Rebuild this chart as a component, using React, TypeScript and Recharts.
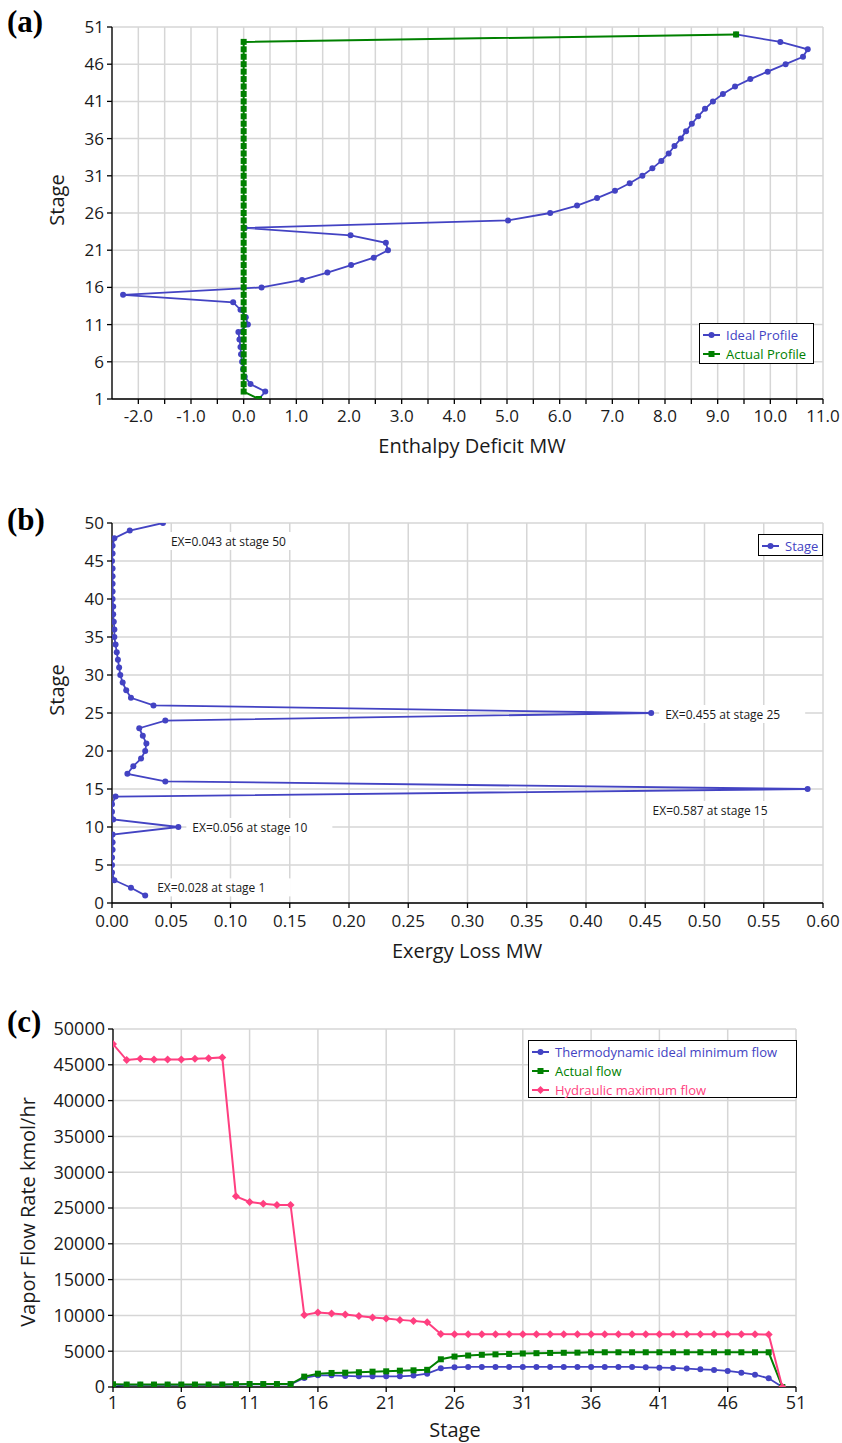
import React from 'react';
import {
  ScatterChart,
  Scatter,
  LineChart,
  Line,
  XAxis,
  YAxis,
  CartesianGrid,
  ReferenceDot,
} from 'recharts';

const FONT = '"Open Sans", "Noto Sans", sans-serif';
const BLUE = '#4343c3';
const GREEN = '#008000';
const PINK = '#ff3f80';
const GRID = '#d6d6d6';
const TEXT = '#1a1a1a';

// ---------- shared stage numbers ----------
const stages = [
  1, 2, 3, 4, 5, 6, 7, 8, 9, 10, 11, 12, 13, 14, 15, 16, 17, 18, 19, 20, 21, 22, 23, 24, 25,
  26, 27, 28, 29, 30, 31, 32, 33, 34, 35, 36, 37, 38, 39, 40, 41, 42, 43, 44, 45, 46, 47, 48, 49, 50,
];

// ---------- (a) Enthalpy deficit ----------
const idealProfile = [
  0.29, 0.41, 0.13, 0.02, -0.01, -0.03, -0.05, -0.06, -0.08, -0.1,
  0.08, 0.04, -0.06, -0.2, -2.29, 0.34, 1.11, 1.59, 2.04, 2.47,
  2.74, 2.7, 2.03, 0.02, 5.02, 5.82, 6.33, 6.71, 7.05, 7.33,
  7.57, 7.76, 7.93, 8.07, 8.18, 8.3, 8.4, 8.51, 8.63, 8.76,
  8.91, 9.1, 9.33, 9.62, 9.95, 10.29, 10.62, 10.71, 10.19, 9.35,
];
const actualProfile = [
  0.29, 0, 0, 0, 0, 0, 0, 0, 0, 0,
  0, 0, 0, 0, 0, 0, 0, 0, 0, 0,
  0, 0, 0, 0, 0, 0, 0, 0, 0, 0,
  0, 0, 0, 0, 0, 0, 0, 0, 0, 0,
  0, 0, 0, 0, 0, 0, 0, 0, 0, 9.35,
];
const xTicksA = [
  -2, -1.5, -1, -0.5, 0, 0.5, 1, 1.5, 2, 2.5, 3, 3.5, 4, 4.5, 5, 5.5, 6, 6.5, 7, 7.5, 8, 8.5,
  9, 9.5, 10, 10.5, 11,
];
const yTicksA = [1, 6, 11, 16, 21, 26, 31, 36, 41, 46, 51];

// ---------- (b) Exergy loss ----------
const exergyLoss = [
  0.028, 0.016, 0.002, 0.0, 0.0, 0.0, 0.0005, 0.0005, 0.0005, 0.056,
  0.001, 0.0, 0.0, 0.003, 0.587, 0.045, 0.013, 0.018, 0.0245, 0.028,
  0.029, 0.026, 0.023, 0.045, 0.455, 0.035, 0.016, 0.012, 0.009, 0.007,
  0.006, 0.005, 0.004, 0.003, 0.002, 0.002, 0.0015, 0.001, 0.001, 0.0005,
  0.0005, 0.0005, 0.0005, 0.0005, 0.0, 0.0005, 0.0005, 0.002, 0.015, 0.043,
];
const xTicksB = [0, 0.05, 0.1, 0.15, 0.2, 0.25, 0.3, 0.35, 0.4, 0.45, 0.5, 0.55, 0.6];
const yTicksB = [0, 5, 10, 15, 20, 25, 30, 35, 40, 45, 50];
const annotations = [
  { text: 'EX=0.043 at stage 50', x: 0.043, y: 50, dx: 8, dy: 18 },
  { text: 'EX=0.056 at stage 10', x: 0.056, y: 10, dx: 14, dy: 0 },
  { text: 'EX=0.028 at stage 1', x: 0.028, y: 1, dx: 12, dy: -8 },
  { text: 'EX=0.455 at stage 25', x: 0.455, y: 25, dx: 14, dy: 1 },
  { text: 'EX=0.587 at stage 15', x: 0.587, y: 15, dx: -155, dy: 21 },
];

// ---------- (c) Vapor flow ----------
const idealMinFlow = [
  50, 300, 300, 300, 300, 300, 300, 300, 300, 350,
  370, 370, 370, 370, 1260, 1630, 1630, 1540, 1490, 1490,
  1490, 1490, 1590, 1860, 2610, 2750, 2800, 2800, 2800, 2800,
  2800, 2800, 2800, 2800, 2800, 2800, 2800, 2800, 2800, 2750,
  2700, 2660, 2570, 2470, 2380, 2240, 2000, 1720, 1210, 0,
];
const actualFlow = [
  380, 340, 340, 340, 340, 340, 340, 340, 340, 380,
  410, 410, 410, 410, 1450, 1860, 1960, 2000, 2060, 2140,
  2190, 2280, 2330, 2400, 3870, 4250, 4400, 4500, 4560, 4620,
  4680, 4720, 4760, 4780, 4800, 4850, 4850, 4850, 4850, 4850,
  4850, 4850, 4850, 4850, 4850, 4850, 4850, 4850, 4850, 0,
];
const hydraulicMaxFlow = [
  47900, 45660, 45850, 45750, 45750, 45750, 45850, 45900, 46030, 26630,
  25840, 25600, 25420, 25420, 10070, 10400, 10260, 10120, 9930, 9700,
  9560, 9375, 9235, 9050, 7400, 7380, 7380, 7370, 7360, 7350,
  7350, 7350, 7350, 7350, 7350, 7350, 7350, 7350, 7350, 7350,
  7350, 7350, 7350, 7350, 7350, 7350, 7350, 7350, 7330, 0,
];
const xTicksC = [1, 6, 11, 16, 21, 26, 31, 36, 41, 46, 51];
const yTicksC = [0, 5000, 10000, 15000, 20000, 25000, 30000, 35000, 40000, 45000, 50000];

// ---------- helpers ----------
const circleShape = (color: string, r: number) => (p: any) =>
  p.cx == null ? <g /> : <circle cx={p.cx} cy={p.cy} r={r} fill={color} />;
const squareShape = (color: string, s: number) => (p: any) =>
  p.cx == null ? <g /> : <rect x={p.cx - s / 2} y={p.cy - s / 2} width={s} height={s} fill={color} />;

const dotCircle = (color: string, r: number) => (p: any) => (
  <circle key={`c-${p.index}`} cx={p.cx} cy={p.cy} r={r} fill={color} />
);
const dotSquare = (color: string, s: number) => (p: any) => (
  <rect key={`s-${p.index}`} x={p.cx - s / 2} y={p.cy - s / 2} width={s} height={s} fill={color} />
);
const dotDiamond = (color: string, h: number) => (p: any) => (
  <polygon
    key={`d-${p.index}`}
    points={`${p.cx},${p.cy - h} ${p.cx + h},${p.cy} ${p.cx},${p.cy + h} ${p.cx - h},${p.cy}`}
    fill={color}
  />
);

const annLabel = (text: string, dx: number, dy: number) => (props: any) => {
  const vb = props.viewBox || { x: 0, y: 0, width: 0, height: 0 };
  const x = vb.x + (vb.width || 0) / 2 + dx;
  const y = vb.y + (vb.height || 0) / 2 + dy;
  const w = text.length * 6.3;
  return (
    <g>
      <rect x={x - 6} y={y - 9} width={w + 20} height={18} fill="#ffffff" />
      <text x={x} y={y} dominantBaseline="central" fontSize={12} fontFamily={FONT} fill={TEXT}>
        {text}
      </text>
    </g>
  );
};

const axisProps = (fs: number) => ({
  axisLine: { stroke: '#000', strokeWidth: 1.3 },
  tickLine: { stroke: '#000', strokeWidth: 1.3 },
  tick: { fill: TEXT, fontSize: fs, fontFamily: FONT },
  tickSize: 5,
});

const fmtA = (v: number) => (Number.isInteger(v) ? v.toFixed(1) : '');
const fmtB = (v: number) => v.toFixed(2);

const Title = ({ x, y, text, rotate, size = 20 }: any) => (
  <div
    style={{
      position: 'absolute',
      left: x,
      top: y,
      transform: `translate(-50%, -50%)${rotate ? ' rotate(-90deg)' : ''}`,
      fontFamily: FONT,
      fontSize: size,
      color: TEXT,
      whiteSpace: 'nowrap',
      lineHeight: 1,
    }}
  >
    {text}
  </div>
);

const PanelTag = ({ top, text }: any) => (
  <div
    style={{
      position: 'absolute',
      left: 7,
      top,
      fontFamily: '"Liberation Serif", "DejaVu Serif", serif',
      fontWeight: 'bold',
      fontSize: 31,
      lineHeight: '34px',
      color: '#000',
    }}
  >
    {text}
  </div>
);

const LegendIcon = ({ color, kind }: any) => (
  <svg width={17} height={10} style={{ display: 'block', flex: 'none' }}>
    <line x1={0} y1={5} x2={17} y2={5} stroke={color} strokeWidth={2} />
    {kind === 'circle' && <circle cx={8.5} cy={5} r={3} fill={color} />}
    {kind === 'square' && <rect x={5.5} y={2} width={6} height={6} fill={color} />}
    {kind === 'diamond' && <polygon points="8.5,1 12.5,5 8.5,9 4.5,5" fill={color} />}
  </svg>
);

const LegendBox = ({ left, top, width, height, items, rowH }: any) => (
  <div
    style={{
      position: 'absolute',
      left,
      top,
      width,
      height,
      boxSizing: 'border-box',
      border: '1.5px solid #000',
      background: '#fff',
      padding: '1px 0 0 3px',
    }}
  >
    {items.map((it: any) => (
      <div
        key={it.label}
        style={{ display: 'flex', alignItems: 'center', height: rowH, fontFamily: FONT, fontSize: 13, color: it.color }}
      >
        <LegendIcon color={it.color} kind={it.kind} />
        <span style={{ marginLeft: 6, whiteSpace: 'nowrap' }}>{it.label}</span>
      </div>
    ))}
  </div>
);

// ---------- panels ----------
const PanelA = () => {
  const ideal = stages.map((s, i) => ({ x: idealProfile[i], y: s }));
  const actual = stages.map((s, i) => ({ x: actualProfile[i], y: s }));
  return (
    <div style={{ position: 'absolute', left: 0, top: 0 }}>
      <ScatterChart width={842} height={470} margin={{ top: 27, right: 19, bottom: 41, left: 52 }}>
        <CartesianGrid stroke={GRID} strokeWidth={1.5} />
        <XAxis
          type="number"
          dataKey="x"
          domain={[-2.5, 11]}
          ticks={xTicksA}
          interval={0}
          allowDataOverflow
          tickFormatter={fmtA}
          height={30}
          tickMargin={6}
          {...axisProps(17)}
        />
        <YAxis
          type="number"
          dataKey="y"
          domain={[1, 51]}
          ticks={yTicksA}
          interval={0}
          allowDataOverflow
          width={60}
          tickMargin={3}
          {...axisProps(17)}
        />
        <Scatter
          data={ideal}
          line={{ stroke: BLUE, strokeWidth: 1.8 }}
          shape={circleShape(BLUE, 3)}
          isAnimationActive={false}
        />
        <Scatter
          data={actual}
          line={{ stroke: GREEN, strokeWidth: 2 }}
          shape={squareShape(GREEN, 6)}
          isAnimationActive={false}
        />
      </ScatterChart>
    </div>
  );
};

const PanelB = () => {
  const loss = stages.map((s, i) => ({ x: exergyLoss[i], y: s }));
  return (
    <div style={{ position: 'absolute', left: 0, top: 495 }}>
      <ScatterChart width={842} height={460} margin={{ top: 28, right: 19, bottom: 22, left: 52 }}>
        <CartesianGrid stroke={GRID} strokeWidth={1.5} />
        <XAxis
          type="number"
          dataKey="x"
          domain={[0, 0.6]}
          ticks={xTicksB}
          interval={0}
          allowDataOverflow
          tickFormatter={fmtB}
          height={30}
          tickMargin={7}
          {...axisProps(17)}
        />
        <YAxis
          type="number"
          dataKey="y"
          domain={[0, 50]}
          ticks={yTicksB}
          interval={0}
          allowDataOverflow
          width={60}
          tickMargin={3}
          {...axisProps(17)}
        />
        <Scatter
          data={loss}
          line={{ stroke: BLUE, strokeWidth: 1.8 }}
          shape={circleShape(BLUE, 3)}
          isAnimationActive={false}
        />
        {annotations.map((a) => (
          <ReferenceDot
            key={a.text}
            x={a.x}
            y={a.y}
            r={0.01}
            fill="none"
            stroke="none"
            ifOverflow="visible"
            label={{ content: annLabel(a.text, a.dx, a.dy) } as any}
          />
        ))}
      </ScatterChart>
    </div>
  );
};

const PanelC = () => {
  const rows = stages.map((s, i) => ({
    stage: s,
    ideal: idealMinFlow[i],
    actual: actualFlow[i],
    hydraulic: hydraulicMaxFlow[i],
  }));
  return (
    <div style={{ position: 'absolute', left: 0, top: 990 }}>
      <LineChart width={842} height={460} data={rows} margin={{ top: 39, right: 46, bottom: 33, left: 53 }}>
        <CartesianGrid stroke={GRID} strokeWidth={1.5} />
        <XAxis
          type="number"
          dataKey="stage"
          domain={[1, 51]}
          ticks={xTicksC}
          interval={0}
          allowDataOverflow
          height={30}
          tickMargin={4}
          {...axisProps(18)}
        />
        <YAxis
          type="number"
          domain={[0, 50000]}
          ticks={yTicksC}
          interval={0}
          allowDataOverflow
          width={60}
          tickMargin={3}
          {...axisProps(18)}
        />
        <Line
          type="linear"
          dataKey="ideal"
          stroke={BLUE}
          strokeWidth={1.8}
          dot={dotCircle(BLUE, 3)}
          isAnimationActive={false}
        />
        <Line
          type="linear"
          dataKey="actual"
          stroke={GREEN}
          strokeWidth={2}
          dot={dotSquare(GREEN, 6)}
          isAnimationActive={false}
        />
        <Line
          type="linear"
          dataKey="hydraulic"
          stroke={PINK}
          strokeWidth={2}
          dot={dotDiamond(PINK, 4)}
          isAnimationActive={false}
        />
      </LineChart>
    </div>
  );
};

export default function App() {
  return (
    <div style={{ position: 'absolute', left: 0, top: 0, width: 842, height: 1443, background: '#fff', overflow: 'hidden' }}>
      <PanelA />
      <PanelB />
      <PanelC />

      <PanelTag top={5} text="(a)" />
      <PanelTag top={503} text="(b)" />
      <PanelTag top={1005} text="(c)" />

      <Title x={57} y={200} text="Stage" rotate />
      <Title x={472} y={446} text="Enthalpy Deficit MW" />
      <Title x={57} y={690} text="Stage" rotate />
      <Title x={467} y={951} text="Exergy Loss MW" />
      <Title x={28} y={1212} text="Vapor Flow Rate kmol/hr" rotate />
      <Title x={455} y={1430} text="Stage" />

      <LegendBox
        left={699}
        top={323}
        width={115}
        height={41}
        rowH={19}
        items={[
          { label: 'Ideal Profile', color: BLUE, kind: 'circle' },
          { label: 'Actual Profile', color: GREEN, kind: 'square' },
        ]}
      />
      <LegendBox
        left={758}
        top={534}
        width={65}
        height={22}
        rowH={19}
        items={[{ label: 'Stage', color: BLUE, kind: 'circle' }]}
      />
      <LegendBox
        left={528}
        top={1040}
        width={269}
        height={58}
        rowH={19}
        items={[
          { label: 'Thermodynamic ideal minimum flow', color: BLUE, kind: 'circle' },
          { label: 'Actual flow', color: GREEN, kind: 'square' },
          { label: 'Hydraulic maximum flow', color: PINK, kind: 'diamond' },
        ]}
      />
    </div>
  );
}
